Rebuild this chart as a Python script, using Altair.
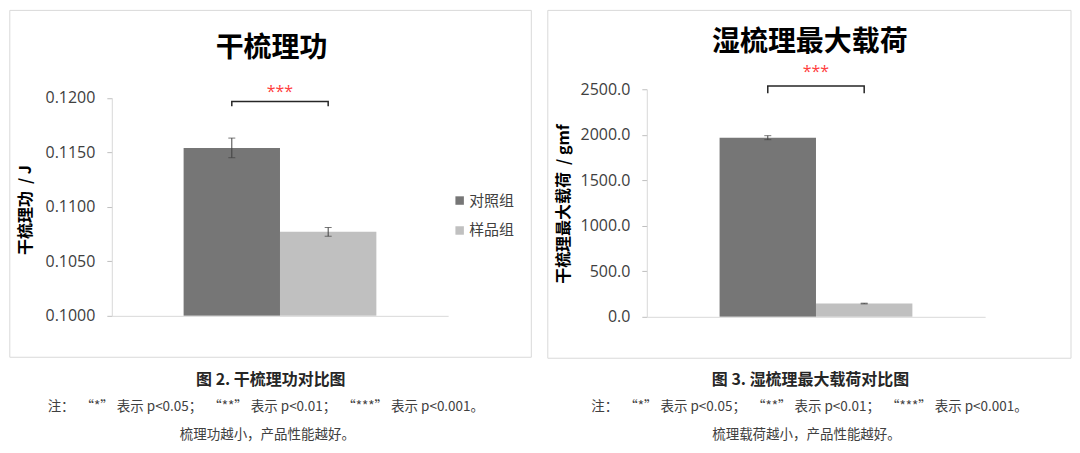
import pandas as pd
import altair as alt

# groups and colours
groups = ["对照组", "样品组"]
colors = ["#767676", "#c0c0c0"]

# 干梳理功 (J)
dry_mean = [0.1154, 0.1077]
dry_err = [0.0009, 0.0004]
dry_ticks = [0.1000, 0.1050, 0.1100, 0.1150, 0.1200]
dry_bracket = [0.11965, 0.11922]  # bracket top, bracket legs
dry_star = 0.12055

# 湿梳理最大载荷 (gmf)
wet_mean = [1968.0, 146.0]
wet_err = [22.0, 4.0]
wet_ticks = [0.0, 500.0, 1000.0, 1500.0, 2000.0, 2500.0]
wet_bracket = [2536.0, 2456.0]
wet_star = 2686.0

CJK = "Noto Sans CJK SC"
NUM = "Open Sans"
SP = "\u00a0\u00a0"

note1 = f"注：{SP}“*” 表示 p<0.05；{SP}“**” 表示 p<0.01；{SP}“***” 表示 p<0.001。"


def one_row():
    return pd.DataFrame({"k": [0]})


def text_layer(txt, x, y, size, color, weight="normal"):
    return alt.Chart(one_row()).mark_text(
        text=txt, font=CJK, fontSize=size, fontWeight=weight, color=color,
        align="center", baseline="middle"
    ).encode(x=alt.value(x), y=alt.value(y))


def panel(mean, err, ticks, bracket, star, fmt, ytitle, title, caption, note2, lay):
    w, h = lay["w"], lay["h"]
    df = pd.DataFrame({"group": groups, "mean": mean, "err": err})
    df["lo"] = df["mean"] - df["err"]
    df["hi"] = df["mean"] + df["err"]

    xscale = alt.Scale(domain=groups, paddingInner=0, paddingOuter=lay["pad"])
    yscale = alt.Scale(domain=[ticks[0], ticks[-1]], nice=False, zero=False,
                       range=[h, lay["top"]])

    x_axis = alt.Axis(labels=False, ticks=False, title=None, zindex=1,
                      domainColor="#d9d9d9", domainWidth=1)
    y_axis = alt.Axis(
        values=ticks, format=fmt, grid=False, zindex=1,
        labelFont=NUM, labelFontSize=16, labelColor="#404040", labelPadding=12,
        tickSize=5, tickColor="#bfbfbf", domainColor="#d9d9d9",
        title=ytitle, titleFont=CJK, titleFontSize=16, titleFontWeight="bold",
        titleColor="#000000", titleX=lay["ytx"], titleY=lay["yty"],
        titleAlign="center", titleBaseline="middle",
    )

    box = alt.Chart(one_row()).mark_rect(
        fillOpacity=0, stroke="#d9d9d9", strokeWidth=1
    ).encode(
        x=alt.value(lay["box"][0]), x2=alt.value(lay["box"][2]),
        y=alt.value(lay["box"][1]), y2=alt.value(lay["box"][3]),
    )

    bars = alt.Chart(df).mark_bar().encode(
        x=alt.X("group:N", scale=xscale, axis=x_axis, sort=groups),
        y=alt.Y("mean:Q", scale=yscale, axis=y_axis),
        y2=alt.datum(ticks[0]),
        color=alt.Color(
            "group:N",
            scale=alt.Scale(domain=groups, range=colors),
            legend=alt.Legend(
                title=None, orient="none", legendX=lay["lx"], legendY=lay["ly"],
                symbolType="square", symbolSize=72, symbolStrokeWidth=0,
                labelFont=CJK, labelFontSize=15, labelColor="#404040",
                labelOffset=2, rowPadding=14, padding=0,
            ),
        ),
    )

    err_rule = alt.Chart(df).mark_rule(color="#404040", strokeWidth=1).encode(
        x=alt.X("group:N", axis=x_axis), y=alt.Y("lo:Q", axis=y_axis), y2="hi:Q"
    )
    cap_lo = alt.Chart(df).mark_tick(color="#404040", thickness=1, size=7).encode(
        x=alt.X("group:N", axis=x_axis), y=alt.Y("lo:Q", axis=y_axis)
    )
    cap_hi = alt.Chart(df).mark_tick(color="#404040", thickness=1, size=7).encode(
        x=alt.X("group:N", axis=x_axis), y=alt.Y("hi:Q", axis=y_axis)
    )

    br = pd.DataFrame({
        "group": [groups[0], groups[0], groups[1], groups[1]],
        "y": [bracket[1], bracket[0], bracket[0], bracket[1]],
        "o": [0, 1, 2, 3],
    })
    bracket_line = alt.Chart(br).mark_line(color="#262626", strokeWidth=1.5).encode(
        x=alt.X("group:N", axis=x_axis), y=alt.Y("y:Q", axis=y_axis), order="o:Q"
    )
    stars = alt.Chart(pd.DataFrame({"group": [groups[1]], "y": [star]})).mark_text(
        text="***", color="#ff4040", fontSize=16, font=NUM
    ).encode(
        x=alt.X("group:N", bandPosition=0, axis=x_axis), y=alt.Y("y:Q", axis=y_axis)
    )

    t = lay["text"]
    texts = [
        text_layer(title, t[0][0], t[0][1], 28, "#000000", "bold"),
        text_layer(caption, t[1][0], t[1][1], 16, "#262626", "bold"),
        text_layer(note1, t[2][0], t[2][1], 13.5, "#404040"),
        text_layer(note2, t[3][0], t[3][1], 13.5, "#404040"),
    ]

    return alt.layer(box, bars, err_rule, cap_lo, cap_hi, bracket_line, stars, *texts).properties(
        width=w, height=h
    )


left = panel(
    dry_mean, dry_err, dry_ticks, dry_bracket, dry_star, ".4f",
    f"干梳理功{SP}/ J", "干梳理功", "图 2.  干梳理功对比图", "梳理功越小，产品性能越好。",
    dict(w=337, h=227, top=8.5, pad=0.745, ytx=-86.7, yty=120.5, lx=341, ly=104,
         box=(-102.2, -79, 420.3, 268.5),
         text=[(160, -40.5), (159.3, 291.5), (154.3, 318.5), (155.8, 346.5)]),
)
right = panel(
    wet_mean, wet_err, wet_ticks, wet_bracket, wet_star, ".1f",
    f"干梳理最大载荷{SP}/ gmf", "湿梳理最大载荷", "图 3.  湿梳理最大载荷对比图", "梳理载荷越小，产品性能越好。",
    dict(w=339, h=228, top=0, pad=0.755, ytx=-83.7, yty=114.5, lx=346.5, ly=103,
         box=(-99.2, -79, 425, 269.5),
         text=[(163.3, -46.5), (164, 291.5), (163, 318.5), (160, 346.5)]),
)

chart = alt.hconcat(left, right, spacing=15).configure_view(stroke=None).properties(
    padding={"left": 1, "top": 1, "right": 0, "bottom": 0}
)

chart.save("out.html", embed_options={"renderer": "svg", "actions": False})
